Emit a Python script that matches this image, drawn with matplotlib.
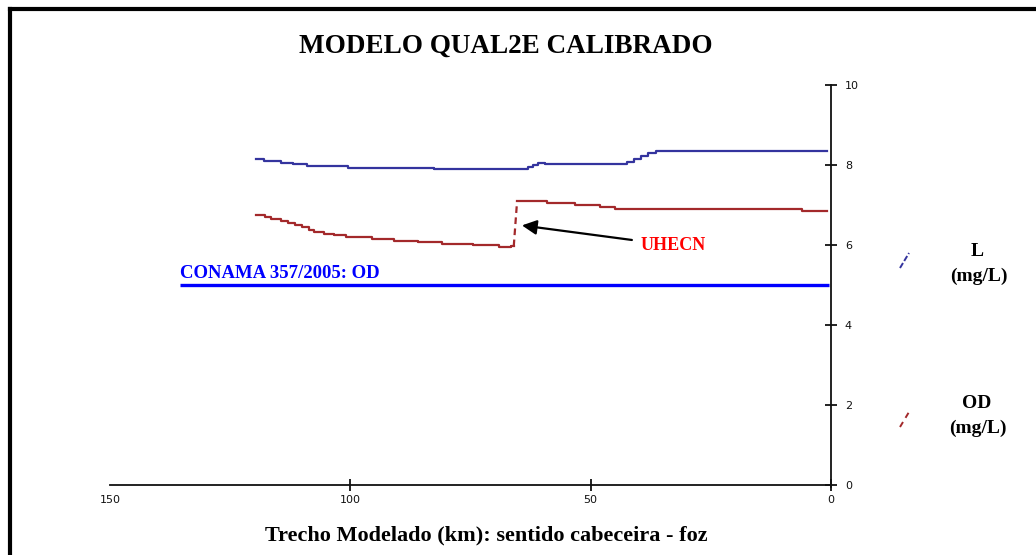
import matplotlib
matplotlib.use("Agg")
import matplotlib.pyplot as plt
from matplotlib.lines import Line2D

# ---- data -------------------------------------------------------------
# L (DBO) profile: break points (km from the mouth) and step values
km_L = [119.6, 118.0, 114.5, 112.0, 109.0, 100.5, 82.5, 63.0, 62.0, 61.0,
        59.5, 42.5, 41.0, 39.5, 38.0, 36.5, 0.8]
val_L = [8.15, 8.10, 8.06, 8.02, 7.98, 7.93, 7.90, 7.95, 8.00, 8.06,
         8.03, 8.08, 8.15, 8.22, 8.29, 8.35, 8.35]

# OD profile upstream of the dam
km_OD_up = [119.6, 117.8, 116.5, 114.5, 113.0, 111.5, 110.0, 108.5, 107.5,
            105.5, 103.5, 101.0, 95.5, 91.0, 86.0, 81.0, 74.5, 69.0, 66.5, 66.0]
val_OD_up = [6.76, 6.70, 6.65, 6.60, 6.55, 6.50, 6.45, 6.38, 6.32,
             6.27, 6.24, 6.20, 6.15, 6.11, 6.07, 6.03, 5.99, 5.95, 5.97, 5.97]
# OD profile downstream of the dam
km_OD_down = [65.3, 59.0, 53.3, 48.0, 45.0, 6.0, 0.8]
val_OD_down = [7.11, 7.06, 7.00, 6.95, 6.90, 6.86, 6.86]

# CONAMA 357/2005 limit for OD
conama_km = [135.4, 0.5]
conama_od = 5.0

# dam location marker
uhecn_tip = (64.3, 6.49)
uhecn_text = (39.7, 5.99)

xticks = [150, 100, 50, 0]
yticks = [0, 2, 4, 6, 8, 10]

# ---- figure -----------------------------------------------------------
W, H = 1036, 555
fig = plt.figure(figsize=(W / 100, H / 100), dpi=100)
fig.patch.set_facecolor("white")


def fx(px):
    return px / W


def fy(py):
    return 1 - py / H


serif = "Liberation Serif"

# axes box: x from 150 km (px 110) to 0 km (px 831); y 0 (px 485) to 10 (px 85)
ax = fig.add_axes([fx(110), fy(485), fx(831) - fx(110), fy(85) - fy(485)])
ax.set_xlim(150, 0)
ax.set_ylim(0, 10)
ax.patch.set_alpha(0)
for s in ("top", "left"):
    ax.spines[s].set_visible(False)
for s in ("bottom", "right"):
    ax.spines[s].set_linewidth(1.3)
    ax.spines[s].set_color("#111111")
ax.spines["right"].set_bounds(-0.05, 10)

ax.yaxis.tick_right()
ax.set_xticks(xticks)
ax.set_xticklabels([str(v) for v in xticks])
ax.set_yticks(yticks)
ax.set_yticklabels([str(v) for v in yticks])
ax.tick_params(axis="both", direction="inout", length=8, width=1.3,
               color="#111111", labelsize=8, labelcolor="#111111")
ax.tick_params(axis="x", pad=3)
ax.tick_params(axis="y", pad=6)
ax.xaxis.get_major_ticks()[0].tick1line.set_visible(False)
for lab in ax.get_xticklabels() + ax.get_yticklabels():
    lab.set_family("DejaVu Sans")

# series
blue_c = "#34349e"
red_c = "#a3292b"
ax.plot(km_L, val_L, drawstyle="steps-post", color=blue_c, lw=1.6)
ax.plot(km_OD_up, val_OD_up, drawstyle="steps-post", color=red_c, lw=1.6)
ax.plot([km_OD_up[-1], km_OD_down[0]], [val_OD_up[-1], val_OD_down[0]],
        color=red_c, lw=1.6, linestyle=(0, (3, 2)))
ax.plot(km_OD_down, val_OD_down, drawstyle="steps-post", color=red_c, lw=1.6)

# CONAMA limit
ax.plot(conama_km, [conama_od, conama_od], color="#0000ff", lw=2.4,
        solid_capstyle="butt")
ax.text(conama_km[0], conama_od + 0.17, "CONAMA 357/2005: OD", color="#0000ff",
        family=serif, weight="bold", fontsize=13.5, ha="left", va="baseline")

# dam annotation
ax.annotate("UHECN", xy=uhecn_tip, xytext=uhecn_text, color="#ff0000",
            family=serif, weight="bold", fontsize=13, ha="left", va="center",
            arrowprops=dict(arrowstyle="-|>", color="black", lw=1.6,
                            mutation_scale=22, shrinkA=4, shrinkB=0))

# titles
fig.text(fx(506), fy(46), "MODELO QUAL2E CALIBRADO", family=serif,
         weight="bold", fontsize=19.5, ha="center", va="center")
fig.text(fx(486), fy(535), "Trecho Modelado (km): sentido cabeceira - foz",
         family=serif, weight="bold", fontsize=16, ha="center", va="center")

# legend on the right
fig.add_artist(Line2D([fx(900), fx(909)], [fy(268), fy(253)],
                      transform=fig.transFigure, color=blue_c, lw=1.4,
                      linestyle=(0, (3, 1.2))))
fig.add_artist(Line2D([fx(900), fx(909)], [fy(427), fy(412)],
                      transform=fig.transFigure, color=red_c, lw=1.4,
                      linestyle=(0, (3, 2.5))))
fig.text(fx(977), fy(251), "L", family=serif, weight="bold", fontsize=14,
         ha="center", va="center")
fig.text(fx(979), fy(276), "(mg/L)", family=serif, weight="bold", fontsize=14,
         ha="center", va="center")
fig.text(fx(977), fy(404), "OD", family=serif, weight="bold", fontsize=14,
         ha="center", va="center")
fig.text(fx(978), fy(428), "(mg/L)", family=serif, weight="bold", fontsize=14,
         ha="center", va="center")

# outer frame (top and left edges visible)
fig.add_artist(Line2D([fx(10), fx(W + 5)], [fy(9), fy(9)],
                      transform=fig.transFigure, color="black", lw=3))
fig.add_artist(Line2D([fx(10), fx(10)], [fy(9), fy(H + 5)],
                      transform=fig.transFigure, color="black", lw=3))

fig.savefig("out.png", dpi=100, facecolor="white")
